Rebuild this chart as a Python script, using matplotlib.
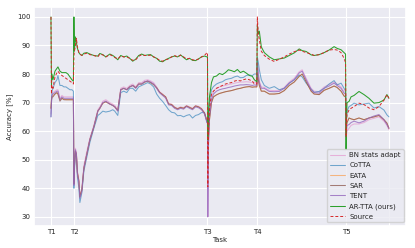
import matplotlib
matplotlib.use("Agg")
import matplotlib.pyplot as plt
import seaborn as sns

# sample positions (task boundaries at 0, 23, 157, 207, 296; end 339)
x_t1 = [0, 0.5, 1, 2, 4, 6, 7, 9, 11, 13, 15, 17, 19, 21, 22.5]
x_t2 = [23, 23.5, 24.5, 25.5, 26.5, 28, 29, 31, 33, 36, 39, 43, 47, 49, 52, 55, 59, 62, 64, 67,
        70, 73, 76, 79, 82, 85, 88, 91, 94, 97, 100, 103, 106, 109, 112, 115, 118, 121, 124, 127,
        130, 133, 136, 139, 142, 145, 148, 151, 154, 156.5]
x_t3 = [157, 157.3, 158, 159, 161, 163, 166, 169, 172, 175, 178, 181, 184, 187, 190, 193, 196, 199, 202, 204, 206.5]
x_t4 = [207, 208, 209, 211, 214, 219, 224, 229, 234, 239, 244, 249, 252, 256, 261, 264, 269, 274, 279, 284, 287, 291, 294, 295.5]
x_t5 = [296, 296.5, 297, 299, 301, 304, 309, 314, 319, 324, 329, 334, 337, 339]

task_ticks = [0, 23, 157, 207, 296, 339]
task_labels = ["T1", "T2", "T3", "T4", "T5", ""]

bn_stats = (
    [66, 71, 73, 73.5, 74, 74.5, 74.5, 71.5, 72.5, 72, 72, 72, 72, 72, 72]
    + [42, 48, 54, 52.5, 46, 43, 37.5, 40, 48, 53, 57.5, 62, 67.5, 68.5, 70.5, 71, 70, 69.5, 69, 67.5,
       75, 75.5, 75, 76, 76.5, 75.5, 77, 77, 77.8, 78, 77.6, 77, 75.5, 73.8, 73, 72, 69.7, 69.5, 68.5, 68,
       68.5, 68.2, 69, 68.5, 68, 69, 68.7, 68, 66.5, 63.5]
    + [63.5, 30, 56, 66, 72, 74, 75, 75.5, 75.8, 76, 76.3, 76.5, 76.8, 77, 77.2, 77.2, 77.3, 77.2, 77, 77.2, 77]
    + [85, 81, 77.5, 75.5, 75.3, 74.3, 74.2, 74.3, 75.3, 77.2, 78.5, 80.8, 81.5, 78.5, 75, 74, 73.8, 75.5, 76.3, 77.2, 76.5, 75.5, 73.8, 73.5]
    + [57, 59, 60, 61, 62, 62.5, 62.5, 63, 64, 64.5, 65, 63.5, 62, 60.5]
)
cotta = (
    [65, 70, 74, 75, 77, 78, 79.5, 76, 76, 75.5, 75.5, 75, 74.5, 74.5, 74]
    + [40, 46, 52.5, 51, 44, 40, 35, 38.5, 46, 51, 56, 61, 65.5, 66, 67, 66.7, 67, 67.5, 67, 65.5,
       73.5, 74, 73.5, 75, 75, 74, 75.5, 76, 76.5, 77, 76.5, 75.5, 73, 71.5, 70.4, 69, 67.5, 66.6, 66.4, 65.4,
       65.5, 65, 65.5, 65.8, 64.6, 65.5, 65.8, 66.5, 66.5, 63]
    + [63, 55, 62, 70, 74.5, 75.6, 76.5, 77, 77.3, 78, 78.3, 78.5, 79, 79.3, 78.7, 78.8, 79.5, 79.7, 79.5, 80, 80]
    + [86, 84, 81.5, 78, 76, 75, 75.6, 74.5, 75, 76.8, 78, 79.7, 79, 76.8, 74.7, 73.6, 73.9, 75, 76.5, 77.7, 76.2, 76.8, 75, 74]
    + [62, 64, 67, 68.6, 69, 69.8, 69.2, 69.5, 69.8, 68.1, 68.6, 67.4, 65.7, 65]
)
eata = (
    [68, 71, 72, 72.5, 73, 73.5, 73, 71, 71.5, 71.2, 71, 71, 71, 71, 71]
    + [41.5, 47.5, 53, 52, 45.5, 42.5, 37, 39.5, 47, 52, 57, 61.5, 67, 68, 69.8, 70.3, 69.5, 69, 68.5, 67.2,
       74.5, 75, 74.5, 75.5, 76, 75.2, 76.5, 76.5, 77.2, 77.5, 77, 76.3, 75.2, 73.6, 72.8, 72, 69.5, 69.3, 68.3, 67.8,
       68.3, 68, 68.8, 68.3, 67.8, 68.8, 68.5, 67.8, 66.3, 63.5]
    + [63.5, 48, 58, 64, 70, 72, 72.7, 73.2, 73.5, 73.8, 74, 74.2, 74.5, 74.8, 75, 75.3, 75.5, 75.6, 75.4, 75.5, 75.5]
    + [80, 78, 76, 74, 74, 73, 73, 73.2, 74.2, 76, 77.2, 79.2, 80, 77.3, 74, 73, 72.8, 74.3, 75, 75.8, 75.3, 74, 72.3, 72]
    + [60, 62, 63, 64.6, 64.3, 64, 64.6, 64, 64.6, 65, 65.5, 64, 62.8, 61]
)
sar = (
    [68, 71, 72, 72, 73, 73.5, 73, 70.5, 71.5, 71, 71, 71, 71, 71, 71]
    + [41.5, 47.5, 53, 52, 45.5, 42.5, 37, 39.5, 47, 52, 57, 61.5, 67, 68, 69.8, 70.3, 69.5, 69, 68.5, 67.2,
       74.5, 75, 74.5, 75.5, 76, 75.2, 76.5, 76.5, 77.2, 77.5, 77, 76.3, 75.2, 73.6, 72.8, 72, 69.5, 69.3, 68.3, 67.8,
       68.3, 68, 68.8, 68.3, 67.8, 68.8, 68.5, 67.8, 66.3, 63.5]
    + [63.5, 48, 58, 64, 70, 72, 72.7, 73.2, 73.5, 73.8, 74, 74.2, 74.5, 74.8, 75, 75.3, 75.5, 75.6, 75.4, 75.5, 75.5]
    + [80, 78, 76, 74, 74, 73, 73, 73.2, 74.2, 76, 77.2, 79.2, 80, 77.3, 74, 73, 72.8, 74.3, 75, 75.8, 75.3, 74, 72.3, 72]
    + [60, 62, 63, 64.6, 64.3, 64, 64.6, 64, 64.6, 65, 65.5, 64, 62.8, 61]
)
tent = (
    [65, 70, 72.5, 73, 73.5, 74, 74, 71, 72, 71.5, 71.5, 71.5, 71.5, 71.5, 71.5]
    + [41, 47, 53.5, 52, 45, 42, 36.5, 39, 47, 52, 57, 61.5, 67, 68, 70, 70.5, 69.5, 69, 68.5, 67,
       74.5, 75, 74.5, 75.5, 76, 75, 76.5, 76.5, 77.3, 77.6, 77.2, 76.5, 75, 73.4, 72.5, 71.6, 69.2, 69, 68, 67.5,
       68, 67.7, 68.6, 68, 67.5, 68.5, 68.2, 67.5, 66, 63]
    + [63, 30, 55, 65, 71, 73, 74, 74.5, 74.8, 75, 75.3, 75.5, 75.8, 76, 76.2, 76.2, 76.3, 76.2, 76, 76.2, 76]
    + [84, 80, 77, 75, 75, 73.9, 73.8, 73.9, 75, 76.8, 78, 80.4, 81, 78, 74.5, 73.5, 73.3, 75, 75.8, 76.8, 76, 75, 73.3, 73]
    + [58, 60, 62, 62.3, 63, 63.5, 62.9, 63.5, 64.6, 65.3, 65.8, 64, 62.3, 61]
)
ar_tta = (
    [100, 76, 80, 78, 81, 82, 82.5, 81, 80.5, 80.5, 80.5, 80, 79, 78, 77.5]
    + [100, 88, 93, 91, 89, 87.5, 87, 86.5, 87.3, 87.5, 87, 86.5, 86.3, 87.2, 86.8, 86, 87, 86.5, 86, 85,
       86.5, 86, 86.3, 85.5, 84.5, 85.2, 86.5, 87, 86.5, 86.7, 86.8, 86, 85.5, 84.5, 84.3, 85, 85.5, 86, 86.3, 86,
       86.7, 85.8, 85, 85.5, 84.8, 84.7, 85.3, 86, 86.3, 86]
    + [86, 57, 66, 72, 77, 79, 79.3, 80.2, 79.8, 80.5, 81.5, 81.2, 80.8, 81.6, 80.5, 81, 80.3, 79.5, 79.2, 78, 77.3]
    + [97, 94, 95, 89.5, 87.5, 86, 85, 85.3, 85.6, 86.5, 87.4, 88.8, 88.2, 87.9, 86.7, 86.5, 86.8, 87.5, 88.4, 89.6, 89, 88.5, 87.5, 87]
    + [53.5, 65, 70, 70.4, 72, 72.5, 73.9, 72.8, 71.5, 69.8, 70, 70.9, 72.8, 71.5]
)
source = (
    [100, 73, 76, 75, 79, 80.5, 81, 80, 79.5, 79, 78.5, 78, 77.5, 77, 76.5]
    + [86, 88, 90, 92.5, 89.5, 87.5, 87, 86.5, 87, 87.3, 86.8, 86.5, 86, 87, 86.7, 86, 86.8, 86.3, 85.8, 85.3,
       86.3, 86, 86, 85.5, 84.8, 85, 86.2, 86.8, 86.5, 86.5, 86.6, 86, 85.5, 84.8, 84.5, 85, 85.3, 86, 86.5, 86,
       86.6, 86, 85.3, 85.5, 85, 84.8, 85.3, 86, 86.5, 87.5]
    + [87.5, 40.5, 60, 68, 73, 74, 75, 75.5, 76, 76.5, 76.8, 77, 77.5, 77.8, 77.6, 78, 78.3, 78, 77.5, 76.5, 76.5]
    + [100, 94, 92, 88, 86.5, 85.2, 84.4, 85.2, 86, 87, 87.8, 88.4, 88, 87.5, 87, 86.5, 86.8, 87.5, 88.4, 88.6, 88.4, 87.5, 85.5, 84]
    + [58, 64, 66, 67.4, 68, 68.6, 69.8, 69.3, 68.1, 67.5, 68.6, 70.9, 72.8, 71.5]
)

xs = x_t1 + x_t2 + x_t3 + x_t4 + x_t5

sns.set_theme(style="darkgrid")
plt.rcParams['font.family'] = ['DejaVu Sans']

fig = plt.figure(figsize=(4.15, 2.48), dpi=100)
ax = fig.add_axes([0.082, 0.089, 0.896, 0.883])

lw = 0.75
ax.plot(xs, bn_stats, color="tab:pink", alpha=0.5, lw=lw, label="BN stats adapt")
ax.plot(xs, cotta, color="tab:blue", alpha=0.6, lw=lw, label="CoTTA")
ax.plot(xs, eata, color="tab:orange", alpha=0.5, lw=lw, label="EATA")
ax.plot(xs, sar, color="tab:brown", alpha=0.75, lw=lw, label="SAR")
ax.plot(xs, tent, color="tab:purple", alpha=0.8, lw=lw, label="TENT")
ax.plot(xs, ar_tta, color="tab:green", lw=lw, label="AR-TTA (ours)")
ax.plot(xs, source, color="tab:red", lw=0.7, ls=(0, (3, 2)), label="Source")

ax.set_xticks(task_ticks)
ax.set_xticklabels(task_labels)
ax.set_xlim(-17, 356)
ax.set_ylim(26.8, 103.5)
ax.set_yticks([30, 40, 50, 60, 70, 80, 90, 100])
ax.tick_params(labelsize=5, pad=2.5, length=0)
ax.set_xlabel("Task", fontsize=5, labelpad=1)
ax.set_ylabel("Accuracy [%]", fontsize=5, labelpad=3)
ax.grid(True, color="white", lw=0.8)

leg = ax.legend(loc="lower right", fontsize=5, frameon=True, handlelength=2.2,
                borderpad=0.4, labelspacing=0.6, handletextpad=0.6,
                bbox_to_anchor=(1.003, 0.0))

fig.savefig("out.png", dpi=100)
